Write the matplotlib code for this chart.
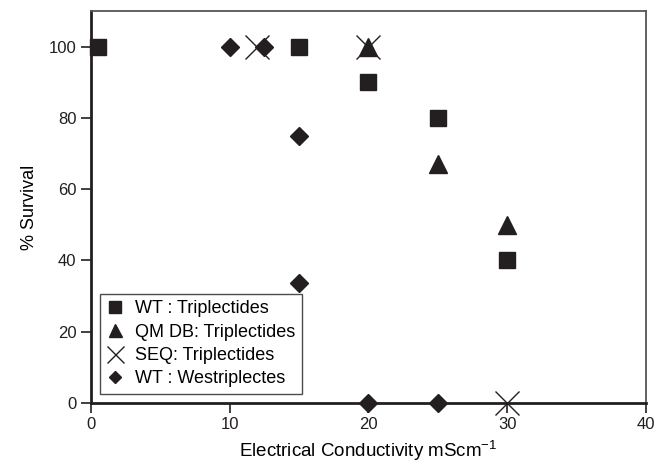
import matplotlib
matplotlib.use("Agg")
import matplotlib.pyplot as plt

plt.rcParams['font.family'] = ['Liberation Sans', 'DejaVu Sans']
plt.rcParams['mathtext.fontset'] = 'custom'
plt.rcParams['mathtext.rm'] = 'Liberation Sans'

# WT : Triplectides
wt_tri_x = [0.5, 15, 20, 25, 30]
wt_tri_y = [100, 100, 90, 80, 40]
# QM DB: Triplectides
qm_x = [20, 25, 30]
qm_y = [100, 67, 50]
# SEQ: Triplectides
seq_x = [12, 20, 30]
seq_y = [100, 100, 0]
# WT : Westriplectes
wt_west_x = [10, 12.5, 15, 15, 20, 25]
wt_west_y = [100, 100, 75, 33.5, 0, 0]

fig = plt.figure(figsize=(6.65, 4.65), dpi=100)
ax = fig.add_axes([0.137, 0.134, 0.834, 0.842])

kw = dict(linestyle='none', color='#231f20', clip_on=False, zorder=3)
ax.plot(wt_tri_x, wt_tri_y, marker='s', markersize=12, label='WT : Triplectides', **kw)
ax.plot(qm_x, qm_y, marker='^', markersize=13, label='QM DB: Triplectides', **kw)
ax.plot(seq_x, seq_y, marker='x', markersize=17, markeredgewidth=1.0, label='SEQ: Triplectides', **kw)
ax.plot(wt_west_x, wt_west_y, marker='D', markersize=9, label='WT : Westriplectes', **kw)

ax.set_xlim(0, 40)
ax.set_ylim(0, 110)
ax.set_xticks([0, 10, 20, 30, 40])
ax.set_yticks([0, 20, 40, 60, 80, 100])
ax.tick_params(direction='out', length=7, width=1.2, labelsize=12, colors='#231f20')

for side in ['left', 'bottom']:
    ax.spines[side].set_linewidth(2)
    ax.spines[side].set_color('#231f20')
for side in ['top', 'right']:
    ax.spines[side].set_linewidth(1.3)
    ax.spines[side].set_color('#555555')

ax.set_xlabel('Electrical Conductivity mScm$^{\\mathregular{-1}}$', fontsize=13.5, labelpad=4)
ax.set_ylabel('% Survival', fontsize=13, labelpad=8)

leg = ax.legend(loc='lower left', bbox_to_anchor=(0.0, 0.0), borderaxespad=0.5,
                fontsize=13, frameon=True, fancybox=False, edgecolor='#231f20',
                handlelength=1.0, handletextpad=0.6, borderpad=0.35,
                labelspacing=0.35, markerscale=0.72)
leg.get_frame().set_linewidth(1.0)

fig.savefig('out.png', dpi=100)
